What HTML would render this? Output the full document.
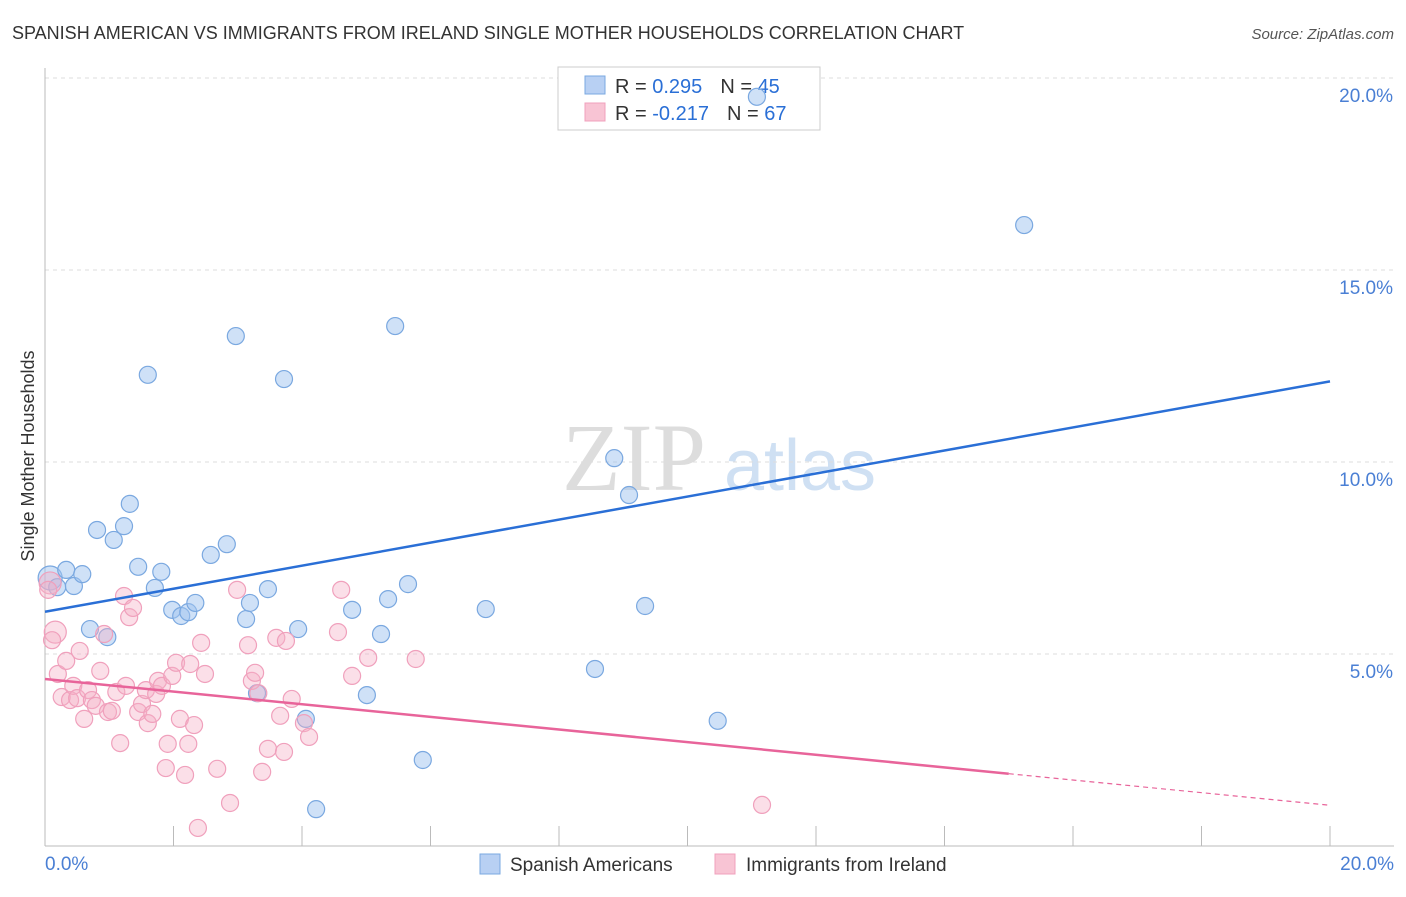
<!DOCTYPE html>
<html><head><meta charset="utf-8"><style>
body{margin:0;background:#fff;width:1406px;height:892px;overflow:hidden;font-family:"Liberation Sans",sans-serif}
</style></head><body>
<svg id="chart" width="1406" height="892" xmlns="http://www.w3.org/2000/svg" font-family="Liberation Sans, sans-serif">
<text x="12" y="39" font-size="18" fill="#333">SPANISH AMERICAN VS IMMIGRANTS FROM IRELAND SINGLE MOTHER HOUSEHOLDS CORRELATION CHART</text>
<text x="1394" y="39" font-size="15" fill="#555" text-anchor="end" font-style="italic">Source: ZipAtlas.com</text>
<g><text x="634" y="490" font-size="96" fill="#ddd" font-family="Liberation Serif, serif" text-anchor="middle">ZIP</text><text x="800" y="490" font-size="72" fill="#cfe0f3" text-anchor="middle">atlas</text></g>
<g id="grid"></g><g id="ticks"></g>
<text transform="translate(34,456) rotate(-90)" font-size="18" fill="#333" text-anchor="middle">Single Mother Households</text>
<g>
<rect x="558" y="67" width="262" height="63" fill="#fff" stroke="#ccc"/>
<rect x="585" y="76" width="20" height="18" fill="#b8d0f3" stroke="#7aa8e0"/>
<rect x="585" y="103" width="20" height="18" fill="#f8c4d4" stroke="#f0a0bc"/>
<text x="615" y="93" font-size="20" fill="#333">R = <tspan fill="#2a6fd6"> 0.295</tspan><tspan dx="18">N = </tspan><tspan fill="#2a6fd6">45</tspan></text>
<text x="615" y="120" font-size="20" fill="#333">R = <tspan fill="#2a6fd6">-0.217</tspan><tspan dx="18">N = </tspan><tspan fill="#2a6fd6">67</tspan></text>
</g>
<g id="pts"></g><g id="trends"></g>
<g>
<rect x="480" y="854" width="20" height="20" fill="#b8d0f3" stroke="#7aa8e0"/>
<text x="510" y="871" font-size="19" fill="#333">Spanish Americans</text>
<rect x="715" y="854" width="20" height="20" fill="#f8c4d4" stroke="#f0a0bc"/>
<text x="746" y="871" font-size="19" fill="#333">Immigrants from Ireland</text>
</g>
</svg>
<script>
const yTicks=[5,10,15,20];
const xTickLabels=["0.0%","20.0%"];
const blueX=[.08,.19,.33,.45,.58,.70,.81,.97,1.07,1.23,1.32,1.45,1.60,1.71,1.81,1.98,2.12,2.23,2.34,2.58,2.83,2.97,3.13,3.19,3.30,3.47,3.72,3.94,4.06,4.22,4.78,5.01,5.23,5.34,5.45,5.65,5.88,6.86,8.56,8.86,9.09,9.34,10.47,11.08,15.24];
const blueY=[6.98,6.74,7.19,6.77,7.08,5.65,8.23,5.44,7.97,8.33,8.91,7.27,12.27,6.72,7.14,6.15,5.99,6.09,6.33,7.58,7.86,13.28,5.91,6.33,3.98,6.69,12.16,5.65,3.31,.96,6.15,3.93,5.52,6.43,13.54,6.82,2.24,6.17,4.61,10.10,9.14,6.25,3.26,19.51,16.17];
const pinkX=[.08,.16,.11,.20,.26,.33,.39,.44,.50,.54,.61,.67,.73,.79,.86,.92,.98,1.04,1.11,1.17,1.23,1.26,1.31,1.37,1.45,1.51,1.57,1.60,1.67,1.73,1.76,1.82,1.88,1.91,1.98,2.04,2.10,2.18,2.23,2.26,2.32,2.38,2.43,2.49,2.68,2.88,2.99,3.16,3.22,3.27,3.32,3.38,3.47,3.60,3.66,3.72,3.75,3.84,4.03,4.11,4.56,4.61,4.78,5.03,5.77,11.16,.05];
const pinkY=[6.85,5.57,5.36,4.48,3.88,4.82,3.80,4.17,3.85,5.08,3.31,4.06,3.80,3.65,4.56,5.52,3.49,3.52,4.01,2.68,6.51,4.17,5.96,6.20,3.49,3.70,4.06,3.20,3.44,3.96,4.30,4.17,2.03,2.66,4.43,4.77,3.31,1.85,2.66,4.74,3.15,.47,5.29,4.48,2.01,1.12,6.67,5.23,4.30,4.51,3.98,1.93,2.53,5.42,3.39,2.45,5.34,3.83,3.20,2.84,5.57,6.67,4.43,4.90,4.87,1.07,6.67];
const blueTrend=[6.1,12.1];
const pinkTrend=[4.35,1.06];
const pinkSolidEnd=15;
const X=v=>45+v/20*1285, Y=v=>846-v*38.4;
const NS="http://www.w3.org/2000/svg";
function mk(p,t,a){const e=document.createElementNS(NS,t);for(const k in a)e.setAttribute(k,a[k]);document.getElementById(p).appendChild(e);return e;}
yTicks.forEach(t=>{
 const l=mk('grid','line',{x1:45,x2:1394,y1:Y(t),y2:Y(t),stroke:'#ddd','stroke-dasharray':'4,4'});
 
 
 const tx=mk('grid','text',{x:1393,y:Y(t)+24,'font-size':19,fill:'#4a7fd4','text-anchor':'end'});
 tx.textContent=t.toFixed(1)+'%';
 
 
});
mk('ticks','line',{x1:45,x2:45,y1:68,y2:846,stroke:'#bbb'});
mk('ticks','line',{x1:45,x2:1394,y1:846,y2:846,stroke:'#bbb'});
for(let i=0;i<=10;i++){const t=mk('ticks','line',{x1:X(i*2),x2:X(i*2),y1:826,y2:846,stroke:'#bbb'});
 
 }
[[0,'start',45],[1,'end',1394]].forEach(([i,a,x])=>{const t=mk('ticks','text',{x:x,y:870,'font-size':19,fill:'#4a7fd4','text-anchor':a});t.textContent=xTickLabels[i];
 
 });
blueX.forEach((v,i)=>{const c=mk('pts','circle',{cx:X(v),cy:Y(blueY[i]),r:i==0?12:8.5,fill:'rgba(160,195,240,0.5)',stroke:'#7aa8e0','stroke-width':1.2});
 
 });
pinkX.forEach((v,i)=>{const c=mk('pts','circle',{cx:X(v),cy:Y(pinkY[i]),r:(i<2)?11:8.5,fill:'rgba(245,175,198,0.4)',stroke:'#f0a0bc','stroke-width':1.2});
 
 });
const bl=mk('trends','line',{x1:X(0),y1:Y(blueTrend[0]),x2:X(20),y2:Y(blueTrend[1]),stroke:'#2a6fd6','stroke-width':2.5});


const pe=pinkTrend[0]+(pinkTrend[1]-pinkTrend[0])*pinkSolidEnd/20;
const pl=mk('trends','line',{x1:X(0),y1:Y(pinkTrend[0]),x2:X(pinkSolidEnd),y2:Y(pe),stroke:'#e8649a','stroke-width':2.5});


const pd=mk('trends','line',{x1:X(pinkSolidEnd),y1:Y(pe),x2:X(20),y2:Y(pinkTrend[1]),stroke:'#e8649a','stroke-width':1.2,'stroke-dasharray':'5,4'});


</script>
</body></html>
